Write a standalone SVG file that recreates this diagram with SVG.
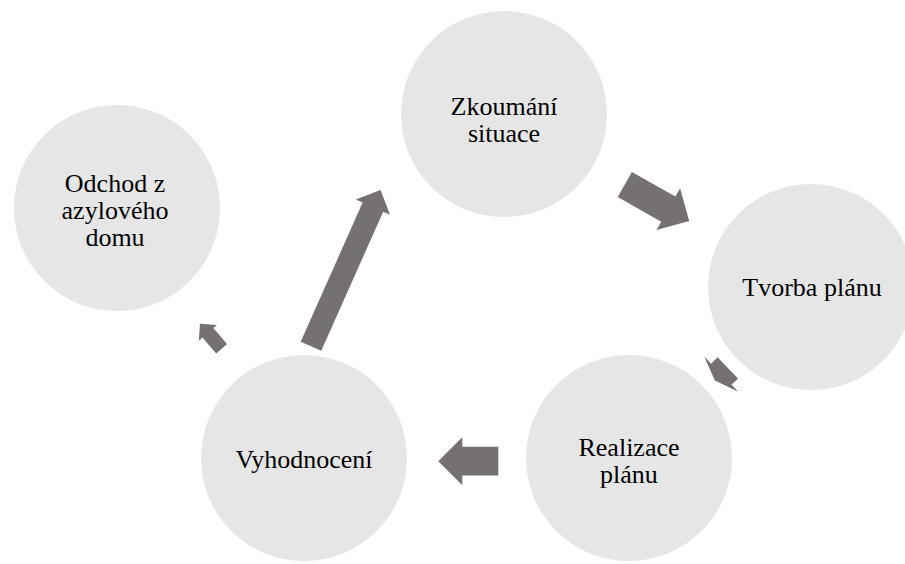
<svg xmlns="http://www.w3.org/2000/svg" width="905" height="564" viewBox="0 0 905 564">
<style>
.node circle{fill:#E7E6E6;}
.node text{font-family:"Liberation Serif","Times New Roman",serif;font-size:26px;fill:#000;text-anchor:middle;}
.arrow{fill:#767171;}
</style>
<rect width="905" height="564" fill="#fff"/>
<g id="connectors">
<polygon class="arrow" transform="translate(657,202.7) rotate(29.5)" points="-37,-14.4 13,-14.4 13,-24 37,0 13,24 13,14.4 -37,14.4"/>
<polygon class="arrow" transform="translate(721.3,374.2) rotate(136)" points="-9,-14.7 0,-14.7 0,-24.5 9,0 0,24.5 0,14.7 -9,14.7"/>
<polygon class="arrow" transform="translate(468.3,461.2) rotate(180)" points="-30,-14.4 6,-14.4 6,-24 30,0 6,24 6,14.4 -30,14.4"/>
<polygon class="arrow" transform="translate(345.75,268.15) rotate(-66)" points="-85.5,-11.25 66.75,-11.25 66.75,-18.75 85.5,0 66.75,18.75 66.75,11.25 -85.5,11.25"/>
<polygon class="arrow" transform="translate(210.8,336.2) rotate(-131)" points="-16.5,-7.2 4.5,-7.2 4.5,-12 16.5,0 4.5,12 4.5,7.2 -16.5,7.2"/>
</g>
<g id="node-zkoumani" class="node">
<circle cx="504" cy="114" r="103"/>
<text x="504" y="115">Zkoumání</text>
<text x="504" y="142">situace</text>
</g>
<g id="node-odchod" class="node">
<circle cx="117" cy="208" r="103"/>
<text x="115" y="191.5">Odchod z</text>
<text x="115" y="218.5">azylového</text>
<text x="115" y="245.5">domu</text>
</g>
<g id="node-tvorba" class="node">
<circle cx="811" cy="287" r="103"/>
<text x="812" y="296">Tvorba plánu</text>
</g>
<g id="node-realizace" class="node">
<circle cx="629" cy="458" r="103"/>
<text x="629" y="455.5">Realizace</text>
<text x="629" y="482.5">plánu</text>
</g>
<g id="node-vyhodnoceni" class="node">
<circle cx="304" cy="458" r="103"/>
<text x="304" y="468.3">Vyhodnocení</text>
</g>
</svg>
